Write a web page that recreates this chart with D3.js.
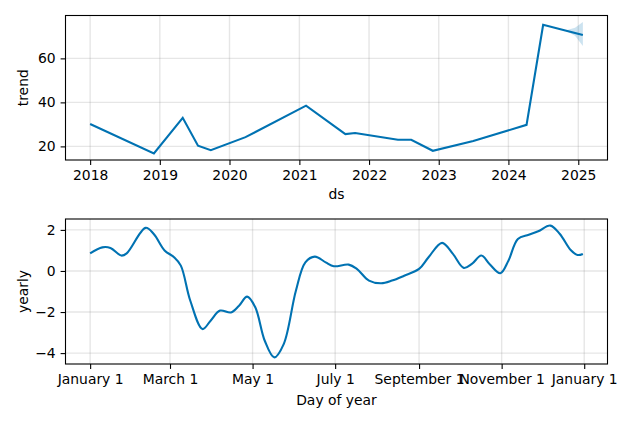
<!DOCTYPE html>
<html>
<head>
<meta charset="utf-8">
<script src="https://cdn.jsdelivr.net/npm/d3@7"></script>
<style>
  body { margin: 0; background: #fff; }
  svg { font-family: "DejaVu Sans", sans-serif; }
  .tick text { font-size: 13.9px; fill: #000; }
  .lbl { font-size: 13.9px; fill: #000; }
</style>
</head>
<body>
<svg id="chart" width="634" height="422"></svg>
<script>
// trend component (ds, trend)
const trendDates = ["2018-01-01", "2018-12-01", "2019-05-01", "2019-07-20", "2019-09-25",
    "2020-03-25", "2021-02-05", "2021-08-30", "2021-10-20", "2022-06-01", "2022-08-10",
    "2022-12-01", "2023-07-01", "2024-04-05", "2024-07-01", "2024-10-25", "2025-01-25"];
const trendValues = [30.2, 16.8, 33.0, 20.3, 18.3, 24.2, 38.5, 25.6, 26.1, 23.0, 23.0,
    18.0, 22.4, 29.8, 75.3, 72.7, 70.6];

// forecast uncertainty on the trend
const bandDates = ["2024-10-25", "2024-12-15", "2025-01-25"];
const bandUpper = [72.7, 73.9, 76.5];
const bandLower = [72.7, 70.3, 65.6];

// yearly seasonality (day of year, value)
const yearlyDays = [0, 9, 15, 23, 27, 41, 47, 55, 62, 67, 74, 83, 89, 96, 104, 110, 116, 122,
    129, 136, 143, 152, 159, 166, 174, 180, 191, 197, 206, 215, 223, 232, 243, 250, 260,
    268, 276, 282, 289, 295, 303, 309, 316, 324, 331, 340, 347, 355, 360, 364];
const yearlyValues = [0.86, 1.15, 1.12, 0.75, 0.86, 2.10, 1.8, 1.0, 0.67, 0.26, -1.45, -2.83,
    -2.42, -1.93, -2.02, -1.69, -1.25, -1.77, -3.4, -4.21, -3.56, -0.96, 0.42, 0.7, 0.42,
    0.23, 0.31, 0.1, -0.47, -0.6, -0.47, -0.23, 0.1, 0.67, 1.37, 0.83, 0.15, 0.34, 0.75,
    0.34, -0.11, 0.5, 1.56, 1.76, 1.93, 2.21, 1.8, 1.02, 0.78, 0.83];

const trendTicks = [20, 40, 60];
const yearlyTicks = [-4, -2, 0, 2];
const yearlyTickMonths = [0, 2, 4, 6, 8, 10, 12];

const blue = "#0072B2";
const svg = d3.select("#chart");
const left = 65.5, right = 607.5;
const tick = 4.9;

function pad(ext) {
    const m = (ext[1] - ext[0]) * 0.05;
    return [ext[0] - m, ext[1] + m];
}

function grid(g, x, y, xTicks, yTicks, top, bottom) {
    g.append("g").selectAll("line").data(xTicks).enter().append("line")
        .attr("x1", d => x(d)).attr("x2", d => x(d))
        .attr("y1", top).attr("y2", bottom)
        .attr("stroke", "gray").attr("stroke-opacity", 0.2).attr("stroke-width", 1.4);
    g.append("g").selectAll("line").data(yTicks).enter().append("line")
        .attr("x1", left).attr("x2", right)
        .attr("y1", d => y(d)).attr("y2", d => y(d))
        .attr("stroke", "gray").attr("stroke-opacity", 0.2).attr("stroke-width", 1.4);
}

function axes(g, x, y, xTicks, xFmt, yTicks, top, bottom) {
    const xa = g.append("g").attr("transform", `translate(0,${bottom})`)
        .call(d3.axisBottom(x).tickValues(xTicks).tickFormat(xFmt).tickSizeOuter(0).tickSize(tick).tickPadding(tick));
    const ya = g.append("g").attr("transform", `translate(${left},0)`)
        .call(d3.axisLeft(y).tickValues(yTicks).tickFormat(d => d < 0 ? "\u2212" + Math.abs(d) : d)
            .tickSizeOuter(0).tickSize(tick).tickPadding(tick));
    [xa, ya].forEach(a => {
        a.select(".domain").remove();
        a.selectAll(".tick line").attr("stroke", "#000").attr("stroke-width", 1.1);
        a.selectAll(".tick text").attr("font-family", "DejaVu Sans");
    });
    g.append("rect").attr("x", left).attr("y", top)
        .attr("width", right - left).attr("height", bottom - top)
        .attr("fill", "none").attr("stroke", "#000").attr("stroke-width", 1.1);
}

// ---- trend panel ----
{
    const top = 15.5, bottom = 160;
    const parse = d3.utcParse("%Y-%m-%d");
    const dates = trendDates.map(parse);
    const bDates = bandDates.map(parse);
    const ext = d3.extent(dates).map(d => +d);
    const x = d3.scaleUtc().domain(pad(ext)).range([left, right]);
    const y = d3.scaleLinear()
        .domain(pad([d3.min(trendValues.concat(bandLower)), d3.max(trendValues.concat(bandUpper))]))
        .range([bottom, top]);
    const xTicks = d3.utcYear.range(new Date(Date.UTC(2018, 0, 1)), new Date(Date.UTC(2026, 0, 1)));
    const g = svg.append("g");
    grid(g, x, y, xTicks, trendTicks, top, bottom);

    g.append("path")
        .datum(bDates.map((d, i) => [d, bandLower[i], bandUpper[i]]))
        .attr("fill", blue).attr("fill-opacity", 0.2)
        .attr("d", d3.area().x(d => x(d[0])).y0(d => y(d[1])).y1(d => y(d[2])));
    g.append("path")
        .datum(dates.map((d, i) => [d, trendValues[i]]))
        .attr("fill", "none").attr("stroke", blue).attr("stroke-width", 2.1)
        .attr("d", d3.line().x(d => x(d[0])).y(d => y(d[1])));

    axes(g, x, y, xTicks, d3.utcFormat("%Y"), trendTicks, top, bottom);
    g.append("text").attr("class", "lbl").attr("text-anchor", "middle")
        .attr("x", (left + right) / 2).attr("y", 199).text("ds");
    g.append("text").attr("class", "lbl").attr("text-anchor", "middle")
        .attr("transform", `translate(28,${(top + bottom) / 2}) rotate(-90)`).text("trend");
}

// ---- yearly panel ----
{
    const top = 219, bottom = 364;
    const start = new Date(Date.UTC(2017, 0, 1));
    const days = yearlyDays.map(d => d3.utcDay.offset(start, d));
    const x = d3.scaleUtc().domain(pad(d3.extent(days).map(d => +d))).range([left, right]);
    const y = d3.scaleLinear().domain(pad(d3.extent(yearlyValues))).range([bottom, top]);
    const xTicks = yearlyTickMonths.map(m => new Date(Date.UTC(2017, m, 1)));
    const g = svg.append("g");
    grid(g, x, y, xTicks, yearlyTicks, top, bottom);

    g.append("path")
        .datum(days.map((d, i) => [d, yearlyValues[i]]))
        .attr("fill", "none").attr("stroke", blue).attr("stroke-width", 2.1)
        .attr("d", d3.line().curve(d3.curveCatmullRom.alpha(0.5)).x(d => x(d[0])).y(d => y(d[1])));

    axes(g, x, y, xTicks, d3.utcFormat("%B %-d"), yearlyTicks, top, bottom);
    g.append("text").attr("class", "lbl").attr("text-anchor", "middle")
        .attr("x", (left + right) / 2).attr("y", 405).text("Day of year");
    g.append("text").attr("class", "lbl").attr("text-anchor", "middle")
        .attr("transform", `translate(28,${(top + bottom) / 2}) rotate(-90)`).text("yearly");
}
</script>
</body>
</html>
